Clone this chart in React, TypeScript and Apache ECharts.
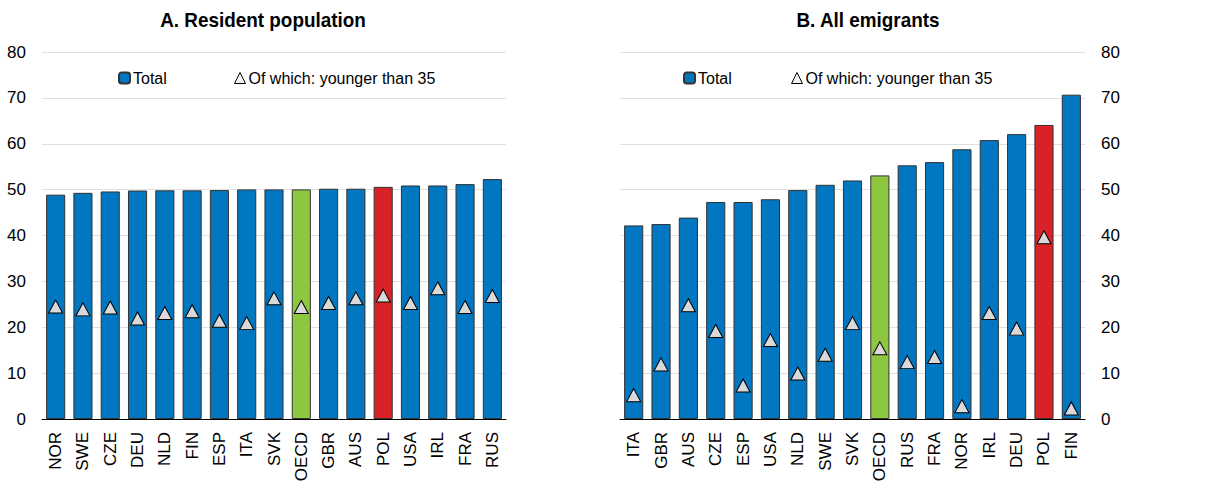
import React, { useEffect, useRef } from "react";
import * as echarts from "echarts";

const categoriesA = ["NOR", "SWE", "CZE", "DEU", "NLD", "FIN", "ESP", "ITA", "SVK", "OECD", "GBR", "AUS", "POL", "USA", "IRL", "FRA", "RUS"];
const totalA = [48.9, 49.3, 49.6, 49.8, 49.85, 49.85, 49.9, 50.05, 50.05, 50.05, 50.2, 50.2, 50.6, 50.9, 50.9, 51.2, 52.3];
const youngA = [24.5, 23.9, 24.3, 21.9, 23.1, 23.5, 21.4, 20.9, 26.3, 24.4, 25.3, 26.3, 26.9, 25.3, 28.5, 24.4, 26.8];

const categoriesB = ["ITA", "GBR", "AUS", "CZE", "ESP", "USA", "NLD", "SWE", "SVK", "OECD", "RUS", "FRA", "NOR", "IRL", "DEU", "POL", "FIN"];
const totalB = [42.2, 42.5, 43.9, 47.3, 47.3, 47.9, 49.9, 51.05, 52.0, 53.1, 55.3, 56.0, 58.8, 60.8, 62.1, 64.1, 70.7];
const youngB = [5.2, 11.9, 24.8, 19.2, 7.3, 17.2, 9.9, 14.0, 20.9, 15.4, 12.4, 13.5, 2.8, 23.1, 19.7, 39.6, 2.3];

const titles = ["A. Resident population", "B. All emigrants"];
const seriesNames = ["Total", "Of which: younger than 35"];

const FONT = '"Liberation Sans", Arial, sans-serif';
const BLUE = "#0077C0";
const GREEN = "#8DC63F";
const RED = "#DA2128";
const EDGE = "#333333";

function barColor(c: string) {
  if (c === "OECD") return GREEN;
  if (c === "POL") return RED;
  return BLUE;
}

export default function App() {
  const ref = useRef<HTMLDivElement>(null);
  useEffect(() => {
    if (!ref.current) return;
    const chart = echarts.init(ref.current, null, { renderer: "svg" });
    const grids = [
      { left: 42, right: 706, top: 52, bottom: 65, containLabel: false, outerBoundsMode: "none" },
      { left: 620, right: 127, top: 52, bottom: 65, containLabel: false, outerBoundsMode: "none" },
    ];
    const cats = [categoriesA, categoriesB];
    const totals = [totalA, totalB];
    const youngs = [youngA, youngB];
    const xAxes = cats.map((c, i) => ({
      type: "category",
      gridIndex: i,
      data: c,
      axisLine: { show: true, lineStyle: { color: "#000", width: 1 } },
      axisTick: { show: false },
      axisLabel: { interval: 0, rotate: 90, margin: 13, fontSize: 17, color: "#000", fontFamily: FONT },
    }));
    const yAxes = [0, 1].map((i) => ({
      type: "value",
      gridIndex: i,
      position: i === 0 ? "left" : "right",
      min: 0,
      max: 80,
      interval: 10,
      axisLine: { show: false },
      axisTick: { show: false },
      axisLabel: { margin: 16, fontSize: 17, color: "#000", fontFamily: FONT },
      splitLine: { show: true, lineStyle: { color: "#e0e0e0", width: 1 } },
    }));
    const series: any[] = [];
    [0, 1].forEach((i) => {
      series.push({
        name: seriesNames[0],
        type: "bar",
        xAxisIndex: i,
        yAxisIndex: i,
        barCategoryGap: "30%",
        itemStyle: { color: BLUE, borderColor: EDGE, borderWidth: 1 },
        data: totals[i].map((v, k) => ({ value: v, itemStyle: { color: barColor(cats[i][k]) } })),
      });
      series.push({
        name: seriesNames[1],
        type: "scatter",
        xAxisIndex: i,
        yAxisIndex: i,
        symbol: "triangle",
        symbolSize: [14, 13],
        itemStyle: { color: "#d9d9d9", borderColor: "#000", borderWidth: 1, opacity: 1 },
        data: youngs[i],
        z: 5,
      });
    });
    const legendBase = {
      orient: "horizontal",
      itemWidth: 11,
      itemHeight: 11,
      itemGap: 5,
      padding: 0,
      selectedMode: false,
      textStyle: { fontSize: 16, color: "#000", fontFamily: FONT, padding: [0, 0, 0, -2] },
    };
    const triItem = { name: seriesNames[1], itemStyle: { color: "#f2f2f2", borderColor: "#000", borderWidth: 1 } };
    const legends = [
      { ...legendBase, left: 118, top: 70, data: [seriesNames[0]] },
      { ...legendBase, left: 234, top: 70, data: [triItem] },
      { ...legendBase, left: 683, top: 70, data: [seriesNames[0]] },
      { ...legendBase, left: 791, top: 70, data: [triItem] },
    ];
    chart.setOption({
      animation: false,
      textStyle: { fontFamily: FONT },
      grid: grids,
      xAxis: xAxes,
      yAxis: yAxes,
      series,
      legend: legends,
      graphic: [
        { type: "text", x: 263, y: 20, scaleX: 0.9, originX: 0, style: { text: titles[0], font: `bold 21px ${FONT}`, fill: "#000", textAlign: "center", textVerticalAlign: "middle" } },
        { type: "text", x: 868, y: 20, scaleX: 0.9, style: { text: titles[1], font: `bold 21px ${FONT}`, fill: "#000", textAlign: "center", textVerticalAlign: "middle" } },
      ],
    });
    return () => chart.dispose();
  }, []);
  return <div ref={ref} style={{ position: "fixed", left: 0, top: 0, width: 1212, height: 484, background: "#fff" }} />;
}
